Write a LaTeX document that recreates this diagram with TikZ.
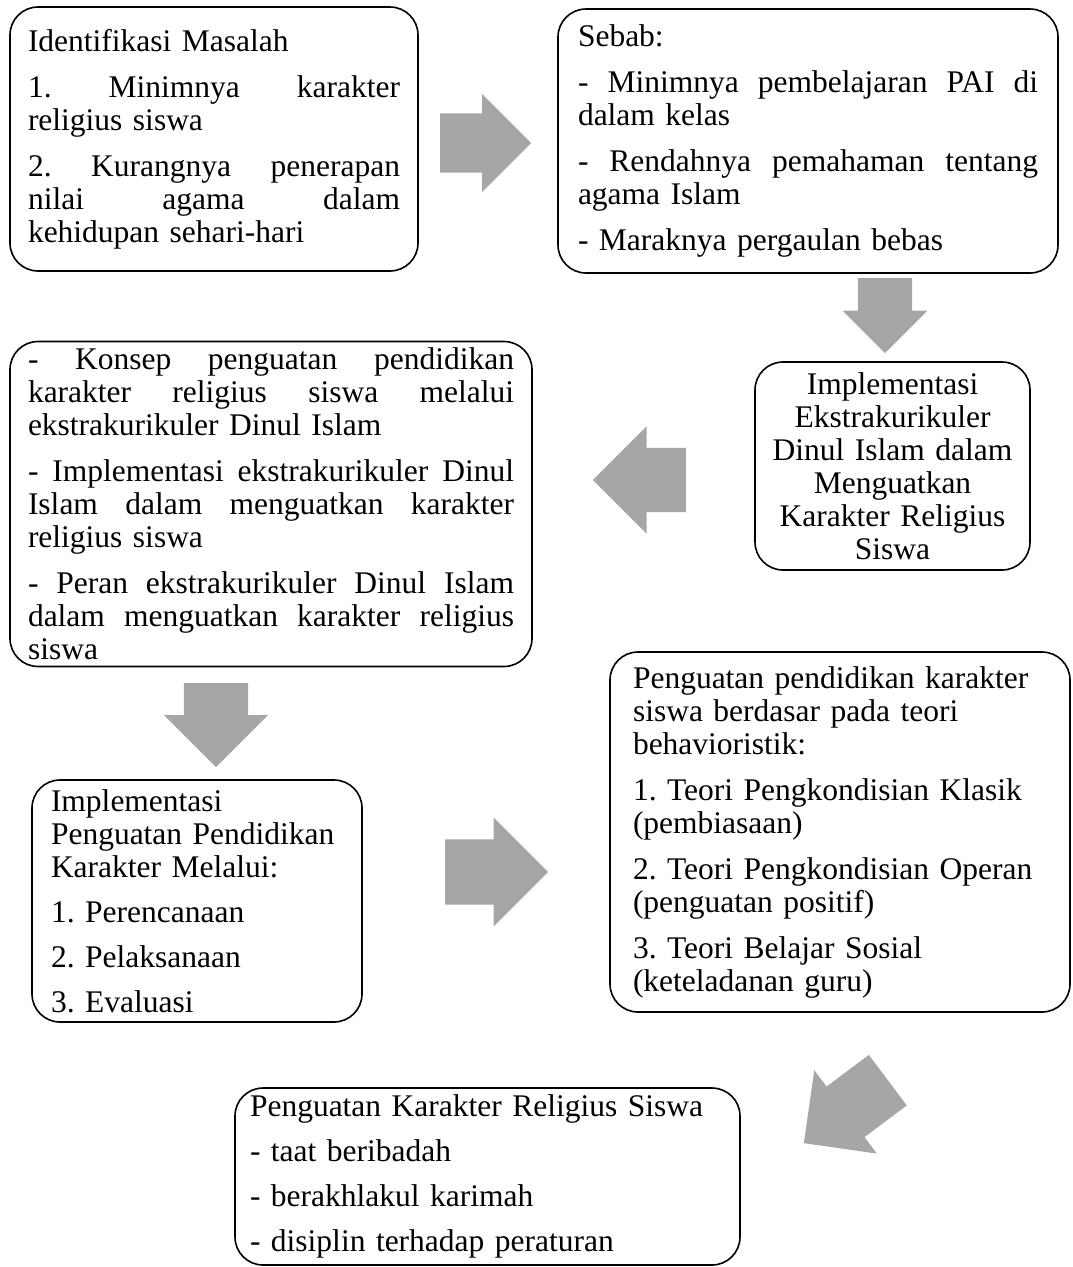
\documentclass[tikz,border=0pt]{standalone}
\usepackage{fontspec}
\setmainfont{Liberation Serif}
\usetikzlibrary{shapes.arrows}
\definecolor{arrowgray}{RGB}{166,166,166}
\frenchspacing

\tikzset{
  box/.style={draw=black, line width=1.6pt, rounded corners=28pt, inner sep=0pt,
    font=\fontsize{31.5}{33}\selectfont, align=left},
  blockarrow/.style={single arrow, fill=arrowgray, inner xsep=0pt, anchor=tail},
}

\begin{document}
\begin{tikzpicture}[x=1pt,y=-1pt]
\useasboundingbox (0,0) rectangle (1072,1267);

% boxes
\node[box, minimum width=408pt, minimum height=264pt, text width=372pt] (masalah) at (214,139)
  {Identifikasi Masalah\\[13pt]
   1.\hfill Minimnya\hfill karakter\\
   religius siswa\\[13pt]
   2.\hfill Kurangnya\hfill penerapan\\
   nilai\hfill agama\hfill dalam\\
   kehidupan sehari-hari};
\node[box, minimum width=500pt, minimum height=264pt, text width=460pt] (sebab) at (808,141)
  {Sebab:\\[13pt]
   -\hfill Minimnya\hfill pembelajaran\hfill PAI\hfill di\\
   dalam kelas\\[13pt]
   -\hfill Rendahnya\hfill pemahaman\hfill tentang\\
   agama Islam\\[13pt]
   - Maraknya pergaulan bebas};
\node[box, minimum width=275pt, minimum height=208pt, text width=260pt, align=center] (implementasi) at (892.5,466)
  {Implementasi\\ Ekstrakurikuler\\ Dinul Islam dalam\\ Menguatkan\\ Karakter Religius\\ Siswa};
\node[box, minimum width=522pt, minimum height=325pt, text width=486pt] (konsep) at (271,504)
  {-\hfill Konsep\hfill penguatan\hfill pendidikan\\
   karakter\hfill religius\hfill siswa\hfill melalui\\
   ekstrakurikuler Dinul Islam\\[13pt]
   -\hfill Implementasi\hfill ekstrakurikuler\hfill Dinul\\
   Islam\hfill dalam\hfill menguatkan\hfill karakter\\
   religius siswa\\[13pt]
   -\hfill Peran\hfill ekstrakurikuler\hfill Dinul\hfill Islam\\
   dalam\hfill menguatkan\hfill karakter\hfill religius\\
   siswa};
\node[box, minimum width=330pt, minimum height=242pt, text width=292pt] (tahap) at (197,901)
  {Implementasi\\ Penguatan Pendidikan\\ Karakter Melalui:\\[12pt]
   1. Perencanaan\\[12pt]
   2. Pelaksanaan\\[12pt]
   3. Evaluasi};
\node[box, minimum width=460pt, minimum height=360pt, text width=414pt] (teori) at (840,832)
  {Penguatan pendidikan karakter\\ siswa berdasar pada teori\\ behavioristik:\\[13pt]
   1. Teori Pengkondisian Klasik\\ (pembiasaan)\\[13pt]
   2. Teori Pengkondisian Operan\\ (penguatan positif)\\[13pt]
   3. Teori Belajar Sosial\\ (keteladanan guru)};
\node[box, minimum width=505pt, minimum height=177pt, text width=475pt] (hasil) at (487.5,1176.5)
  {Penguatan Karakter Religius Siswa\\[12pt]
   - taat beribadah\\[12pt]
   - berakhlakul karimah\\[12pt]
   - disiplin terhadap peraturan};

% block arrows
\node[blockarrow, minimum height=91pt, inner ysep=29.5pt, single arrow head extend=19.5pt] (ab) at (440,143) {};
\node[blockarrow, minimum height=75pt, inner ysep=27pt, single arrow head extend=15.5pt, rotate=270] (bc) at (885,278) {};
\node[blockarrow, minimum height=93pt, inner ysep=32pt, single arrow head extend=21.5pt, rotate=180] (cd) at (686,480) {};
\node[blockarrow, minimum height=84pt, inner ysep=32pt, single arrow head extend=20pt, rotate=270] (de) at (216,683) {};
\node[blockarrow, minimum height=103pt, inner ysep=32.5pt, single arrow head extend=22pt] (ef) at (445,872) {};
\node[blockarrow, minimum height=105pt, inner ysep=31.4pt, single arrow head extend=20.5pt, rotate=216.87] (fg) at (888,1080) {};
\end{tikzpicture}
\end{document}
